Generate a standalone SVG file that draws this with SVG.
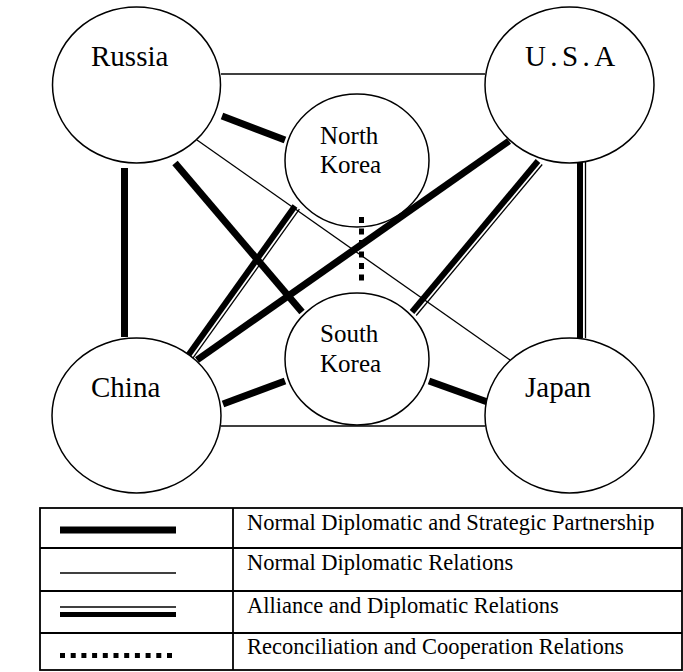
<svg xmlns="http://www.w3.org/2000/svg" width="683" height="672" viewBox="0 0 683 672">
<style>
.node{fill:#fff;stroke:#000;stroke-width:1.5}
.lbl{font-family:"Liberation Serif","Times New Roman",serif;font-size:29px;fill:#000}
.sm{font-family:"Liberation Serif","Times New Roman",serif;font-size:25px;fill:#000}
.leg{font-family:"Liberation Serif","Times New Roman",serif;font-size:22.5px;fill:#000}
.thick{stroke:#000;stroke-width:7;fill:none}
.thin{stroke:#000;stroke-width:1.3;fill:none}
.ath{stroke:#000;stroke-width:6;fill:none}
.dot{stroke:#000;stroke-width:5;stroke-dasharray:6 5.5;fill:none}
.ldot{stroke:#000;stroke-width:5;stroke-dasharray:5 5.7;fill:none}
.tb{stroke:#000;stroke-width:1.8;fill:none}
</style>
<rect width="683" height="672" fill="#fff"/>
<g id="connectors">
<line class="thin" x1="221" y1="74" x2="485" y2="74"/>
<line class="thin" x1="221" y1="426" x2="485" y2="426"/>
<line class="thin" x1="197" y1="140" x2="510" y2="360"/>
<line class="thick" x1="124.5" y1="168" x2="124.5" y2="337"/>
<line class="thick" x1="222" y1="116" x2="285" y2="140"/>
<line class="thick" x1="175" y1="163" x2="302" y2="312"/>
<line class="thick" x1="509" y1="141" x2="197" y2="360"/>
<line class="thick" x1="223" y1="404" x2="285" y2="381"/>
<line class="thick" x1="429" y1="381" x2="493" y2="404"/>
<line class="ath" x1="187" y1="357" x2="295" y2="206"/>
<line class="thin" x1="191.4" y1="360.2" x2="299.4" y2="209.2"/>
<line class="ath" x1="538" y1="161" x2="412" y2="312"/>
<line class="thin" x1="542.2" y1="164.5" x2="416.2" y2="315.5"/>
<line class="ath" x1="580" y1="162" x2="580" y2="338"/>
<line class="thin" x1="585.5" y1="162" x2="585.5" y2="338"/>
<line class="dot" x1="361.5" y1="217" x2="361.5" y2="284"/>
</g>
<g id="russia"><ellipse class="node" cx="136.5" cy="85" rx="84" ry="78"/><text class="lbl" x="91" y="66">Russia</text></g>
<g id="usa"><ellipse class="node" cx="569.5" cy="85" rx="84.5" ry="78"/><text class="lbl" x="525" y="66" letter-spacing="4.4">U.S.A</text></g>
<g id="north-korea"><ellipse class="node" cx="357" cy="160.5" rx="72" ry="66.5" fill-opacity="0"/><text class="sm" x="320" y="144">North</text><text class="sm" x="320" y="173">Korea</text></g>
<g id="south-korea"><ellipse class="node" cx="357" cy="359" rx="72" ry="66"/><text class="sm" x="320" y="342">South</text><text class="sm" x="320" y="372">Korea</text></g>
<g id="china"><ellipse class="node" cx="136.5" cy="415.5" rx="84.5" ry="77.5"/><text class="lbl" x="91" y="397">China</text></g>
<g id="japan"><ellipse class="node" cx="569.5" cy="415.5" rx="84.5" ry="77.5"/><text class="lbl" x="525" y="397">Japan</text></g>
<g id="legend">
<rect class="tb" x="40" y="508" width="642" height="162"/>
<line class="tb" x1="40" y1="548" x2="682" y2="548"/>
<line class="tb" x1="40" y1="591" x2="682" y2="591"/>
<line class="tb" x1="40" y1="633" x2="682" y2="633"/>
<line class="tb" x1="233" y1="508" x2="233" y2="670"/>
<line class="thick" x1="60" y1="530" x2="176" y2="530"/>
<line class="thin" x1="60" y1="573" x2="176" y2="573"/>
<line class="thin" x1="60" y1="607" x2="176" y2="607"/>
<line stroke="#000" stroke-width="5" x1="60" y1="614.5" x2="176" y2="614.5"/>
<line class="ldot" x1="60" y1="655.5" x2="176" y2="655.5"/>
<text class="leg" x="247" y="530">Normal Diplomatic and Strategic Partnership</text>
<text class="leg" x="247" y="570">Normal Diplomatic Relations</text>
<text class="leg" x="247" y="613">Alliance and Diplomatic Relations</text>
<text class="leg" x="247" y="654">Reconciliation and Cooperation Relations</text>
</g>
</svg>
